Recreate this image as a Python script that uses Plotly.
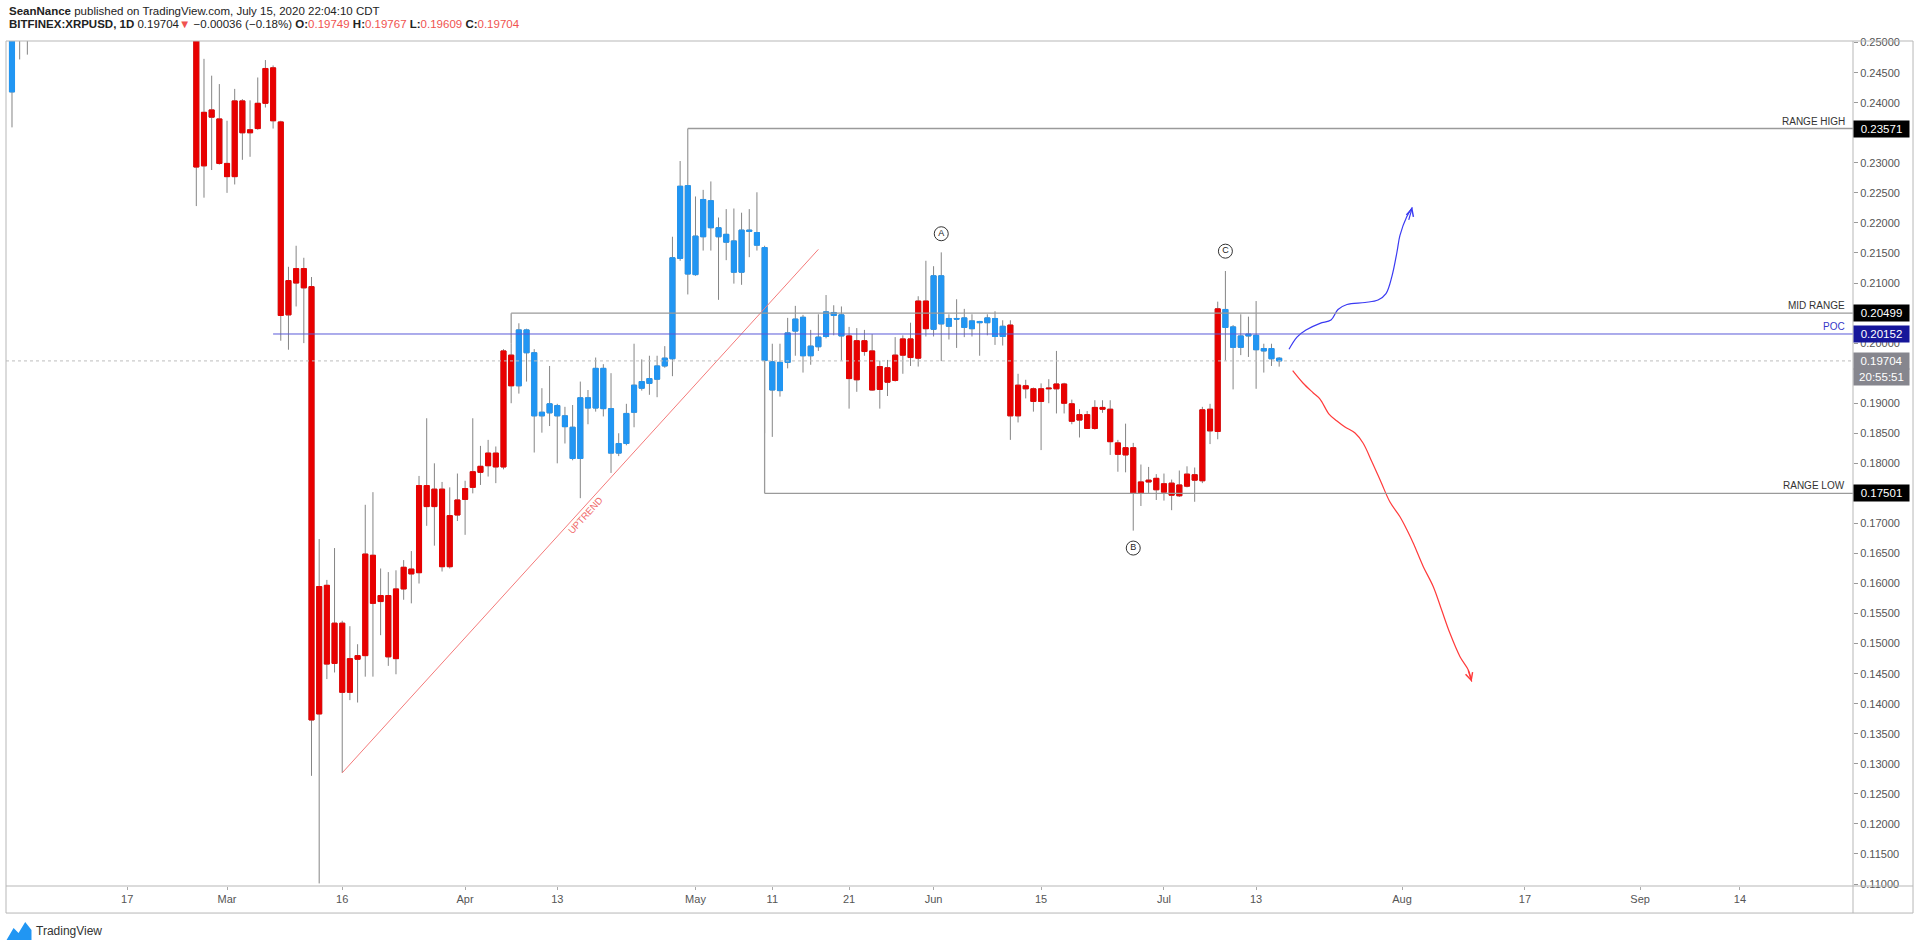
import pandas as pd
import plotly.graph_objects as go

# BITFINEX:XRPUSD daily candles (Feb 5-25 run above the visible range)
dates = list(pd.date_range("2020-02-02", "2020-02-04")) + list(pd.date_range("2020-02-26", "2020-07-16"))

opens = [
    # Feb
    0.2418, 0.2540, 0.2530, 0.2560, 0.2295, 0.2388, 0.2373,
    # Mar
    0.2299, 0.2277, 0.2403, 0.2350, 0.2357, 0.2399, 0.2458, 0.2368, 0.2047, 0.2100,
    0.2124, 0.2094, 0.1383, 0.1597, 0.1467, 0.1534, 0.1419, 0.1474, 0.1480, 0.1647,
    0.1570, 0.1580, 0.1475, 0.1591, 0.1624, 0.1618, 0.1763, 0.1728, 0.1757, 0.1628, 0.1714,
    # Apr
    0.1740, 0.1760, 0.1785, 0.1796, 0.1817, 0.1794, 0.1980, 0.1929, 0.2022, 0.1984,
    0.1879, 0.1884, 0.1896, 0.1879, 0.1860, 0.1808, 0.1909, 0.1892, 0.1958, 0.1891,
    0.1817, 0.1833, 0.1885, 0.1925, 0.1933, 0.1940, 0.1962, 0.1974, 0.2141, 0.2262,
    # May
    0.2114, 0.2177, 0.2237, 0.2192, 0.2181, 0.2170, 0.2118, 0.2188, 0.2184, 0.2159,
    0.1969, 0.1921, 0.1968, 0.2020, 0.2043, 0.1979, 0.1994, 0.2011, 0.2051, 0.2047,
    0.2012, 0.1939, 0.2004, 0.1987, 0.1923, 0.1959, 0.1938, 0.1980, 0.2007, 0.1975, 0.2070,
    # Jun
    0.2023, 0.2112, 0.2028, 0.2041, 0.2042, 0.2024, 0.2036, 0.2034, 0.2041, 0.2011,
    0.2030, 0.1879, 0.1929, 0.1924, 0.1903, 0.1924, 0.1924, 0.1932, 0.1899, 0.1872,
    0.1881, 0.1858, 0.1893, 0.1890, 0.1834, 0.1814, 0.1826, 0.1750, 0.1769, 0.1775,
    # Jul
    0.1752, 0.1767, 0.1746, 0.1762, 0.1781, 0.1771, 0.1890, 0.1853, 0.2056, 0.2027,
    0.1993, 0.2012, 0.2013, 0.1987, 0.1991, 0.19749,
]
highs = [
    0.2560, 0.2585, 0.2570, 0.2580, 0.2473, 0.2445, 0.2431,
    0.2370, 0.2423, 0.2406, 0.2404, 0.2442, 0.2471, 0.2462, 0.2370, 0.2127, 0.2162,
    0.2142, 0.2110, 0.1674, 0.1606, 0.1659, 0.1538, 0.1529, 0.1499, 0.1731, 0.1752,
    0.1625, 0.1619, 0.1622, 0.1639, 0.1654, 0.1779, 0.1875, 0.1800, 0.1769, 0.1760, 0.1783,
    0.1771, 0.1875, 0.1829, 0.1839, 0.1828, 0.1990, 0.2000, 0.2033, 0.2024, 0.1990,
    0.1925, 0.1962, 0.1899, 0.1894, 0.1897, 0.1936, 0.1922, 0.1976, 0.1965, 0.1950,
    0.1850, 0.1899, 0.1999, 0.1973, 0.1979, 0.1979, 0.1995, 0.2177, 0.2303, 0.23571,
    0.2244, 0.2255, 0.2269, 0.2209, 0.2223, 0.2224, 0.2217, 0.2223, 0.2251, 0.2162,
    0.1999, 0.1999, 0.2042, 0.2062, 0.2047, 0.2022, 0.2048, 0.2080, 0.2063, 0.2061,
    0.2027, 0.2025, 0.2022, 0.2015, 0.1971, 0.1972, 0.2010, 0.2013, 0.2034, 0.2078, 0.2137,
    0.2128, 0.2151, 0.2048, 0.2073, 0.2057, 0.2048, 0.2037, 0.2048, 0.2053, 0.2038,
    0.2038, 0.1949, 0.1939, 0.1926, 0.1933, 0.1940, 0.1987, 0.1934, 0.1906, 0.1890,
    0.1887, 0.1905, 0.1905, 0.1905, 0.1839, 0.1866, 0.1834, 0.1798, 0.1794, 0.1782,
    0.1783, 0.1773, 0.1788, 0.1795, 0.1793, 0.1894, 0.1899, 0.2069, 0.2120, 0.2030,
    0.2048, 0.2044, 0.2070, 0.1999, 0.1999, 0.19767,
]
lows = [
    0.2359, 0.2472, 0.2480, 0.2228, 0.2242, 0.2288, 0.2297,
    0.2250, 0.2264, 0.2305, 0.2310, 0.2355, 0.2392, 0.2357, 0.2004, 0.1989, 0.2061,
    0.2000, 0.1280, 0.1101, 0.1441, 0.1452, 0.1285, 0.1406, 0.1402, 0.1445, 0.1445,
    0.1514, 0.1463, 0.1449, 0.1573, 0.1567, 0.1600, 0.1696, 0.1663, 0.1620, 0.1625, 0.1704,
    0.1681, 0.1750, 0.1764, 0.1778, 0.1767, 0.1790, 0.1900, 0.1916, 0.1936, 0.1818,
    0.1851, 0.1862, 0.1800, 0.1833, 0.1805, 0.1742, 0.1865, 0.1886, 0.1878, 0.1784,
    0.1812, 0.1830, 0.1860, 0.1921, 0.1914, 0.1910, 0.1959, 0.1945, 0.2137, 0.2081,
    0.2112, 0.2154, 0.2154, 0.2072, 0.2138, 0.2099, 0.2097, 0.2143, 0.2154, 0.1850,
    0.1844, 0.1911, 0.1958, 0.1979, 0.1951, 0.1964, 0.1987, 0.2008, 0.2013, 0.1971,
    0.1891, 0.1919, 0.1979, 0.1921, 0.1891, 0.1912, 0.1936, 0.1949, 0.1962, 0.1961, 0.2011,
    0.2011, 0.1970, 0.2006, 0.1992, 0.2010, 0.2011, 0.1979, 0.2013, 0.1997, 0.1996,
    0.1839, 0.1868, 0.1908, 0.1886, 0.1822, 0.1900, 0.1883, 0.1883, 0.1865, 0.1843,
    0.1857, 0.1856, 0.1884, 0.1814, 0.1786, 0.1785, 0.1688, 0.1729, 0.1750, 0.1739,
    0.1738, 0.1722, 0.1744, 0.1760, 0.1736, 0.1767, 0.1832, 0.1840, 0.1971, 0.1923,
    0.1980, 0.1977, 0.1924, 0.1951, 0.1962, 0.19609,
]
closes = [
    0.2540, 0.2530, 0.2545, 0.2293, 0.2384, 0.2376, 0.2299,
    0.2277, 0.2403, 0.2350, 0.2355, 0.2399, 0.2457, 0.2370, 0.2046, 0.2104, 0.2124,
    0.2092, 0.1373, 0.1595, 0.1466, 0.1534, 0.1419, 0.1475, 0.1480, 0.1649, 0.1567,
    0.1580, 0.1478, 0.1591, 0.1627, 0.1616, 0.1763, 0.1728, 0.1757, 0.1628, 0.1713, 0.1739,
    0.1758, 0.1786, 0.1795, 0.1817, 0.1794, 0.1987, 0.1929, 0.2022, 0.1984, 0.1879,
    0.1885, 0.1899, 0.1879, 0.1861, 0.1808, 0.1909, 0.1892, 0.1958, 0.1891, 0.1817,
    0.1833, 0.1883, 0.1930, 0.1936, 0.1941, 0.1962, 0.1975, 0.2142, 0.2261, 0.2115,
    0.2178, 0.2239, 0.2192, 0.2177, 0.2168, 0.2118, 0.2188, 0.2186, 0.2163, 0.1971,
    0.1922, 0.1968, 0.2017, 0.2040, 0.1979, 0.1995, 0.2010, 0.2052, 0.2046, 0.2012,
    0.1941, 0.2004, 0.1986, 0.1922, 0.1961, 0.1935, 0.1980, 0.2007, 0.1976, 0.2070, 0.2024,
    0.2112, 0.2032, 0.2041, 0.2040, 0.2026, 0.2037, 0.2034, 0.2042, 0.2011, 0.2028,
    0.1879, 0.1930, 0.1924, 0.1903, 0.1924, 0.1925, 0.1932, 0.1900, 0.1870, 0.1881,
    0.1858, 0.1893, 0.1890, 0.1836, 0.1815, 0.1826, 0.1750, 0.1769, 0.1772, 0.1756,
    0.1766, 0.1747, 0.1764, 0.1782, 0.1772, 0.1889, 0.1854, 0.2057, 0.2026, 0.1993,
    0.2012, 0.2015, 0.1989, 0.1991, 0.19740, 0.19704,
]

# bar colouring of the trend script: state from that day on (+1 blue, -1 red)
trend_changes = [("2020-02-02", 1), ("2020-02-26", -1), ("2020-04-08", 1), ("2020-05-21", -1),
                 ("2020-06-01", 1), ("2020-06-11", -1), ("2020-07-09", 1)]

# drawn levels (price, first day)
range_high, range_high_from = 0.23571, "2020-04-30"
mid_range, mid_range_from = 0.20499, "2020-04-07"
poc, poc_from = 0.20152, "2020-03-07"
range_low, range_low_from = 0.17501, "2020-05-10"
last_price = 0.19704
countdown = "20:55:51"

uptrend_x = ["2020-03-16", "2020-05-17"]
uptrend_y = [0.1285, 0.2156]

# freehand scenarios
bull_x = ["2020-07-17 06:43", "2020-07-18 07:41", "2020-07-19 11:46", "2020-07-21 07:41",
          "2020-07-22 18:00", "2020-07-23 15:50", "2020-07-24 19:55", "2020-07-27 04:19",
          "2020-07-28 20:53", "2020-07-29 21:50", "2020-07-30 16:34", "2020-07-31 08:10",
          "2020-07-31 17:31", "2020-08-01 14:38", "2020-08-02 08:10"]
bull_y = [0.19897, 0.20101, 0.20218, 0.20329, 0.20384, 0.20559, 0.20642, 0.20676,
          0.20717, 0.20825, 0.21116, 0.21516, 0.21792, 0.22103, 0.22260]
bear_x = ["2020-07-17 18:14", "2020-07-19 02:24", "2020-07-20 09:50", "2020-07-21 07:41",
          "2020-07-22 11:46", "2020-07-23 12:43", "2020-07-24 13:41", "2020-07-25 21:07",
          "2020-07-26 22:05", "2020-07-28 02:10", "2020-07-29 06:14", "2020-07-30 10:19",
          "2020-07-31 17:31", "2020-08-01 15:36", "2020-08-02 11:17", "2020-08-03 18:29",
          "2020-08-05 01:41", "2020-08-06 03:50", "2020-08-07 05:46", "2020-08-08 13:12",
          "2020-08-09 15:07", "2020-08-10 01:41"]
bear_y = [0.19541, 0.19336, 0.19175, 0.19070, 0.18820, 0.18704, 0.18604, 0.18504,
          0.18338, 0.18022, 0.17689, 0.17356, 0.17111, 0.16890, 0.16669, 0.16280,
          0.15947, 0.15559, 0.15171, 0.14782, 0.14561, 0.14366]

point_x = ["2020-06-02", "2020-06-27", "2020-07-09"]
point_y = [0.2182, 0.1659, 0.2153]
point_text = ["A", "B", "C"]

tick_dates = ["2020-02-17", "2020-03-01", "2020-03-16", "2020-04-01", "2020-04-13", "2020-05-01",
              "2020-05-11", "2020-05-21", "2020-06-01", "2020-06-15", "2020-07-01", "2020-07-13",
              "2020-08-01", "2020-08-17", "2020-09-01", "2020-09-14"]
tick_text = ["17", "Mar", "16", "Apr", "13", "May", "11", "21", "Jun", "15", "Jul", "13",
             "Aug", "17", "Sep", "14"]

assert len(dates) == len(opens) == len(highs) == len(lows) == len(closes)

FONT = "Liberation Sans"
RED = "#e80000"
BLUE = "#2196f3"
WICK = "#858585"
LEVEL = "#9a9a9a"
X_VIEW = ["2020-02-01 05:17", "2020-09-28 17:17"]

df = pd.DataFrame({"date": dates, "open": opens, "high": highs, "low": lows, "close": closes})
state = pd.Series([s for _, s in trend_changes], index=pd.to_datetime([d for d, _ in trend_changes]))
df["trend"] = state.reindex(df["date"], method="ffill").values
df["top"] = df[["open", "close"]].max(axis=1)
df["bottom"] = df[["open", "close"]].min(axis=1)

fig = go.Figure()

# wicks first, in grey
fig.add_trace(go.Candlestick(
    x=df["date"], open=df["open"], high=df["high"], low=df["low"], close=df["close"],
    increasing=dict(line=dict(color=WICK, width=1), fillcolor=WICK),
    decreasing=dict(line=dict(color=WICK, width=1), fillcolor=WICK),
    whiskerwidth=0, hoverinfo="skip", showlegend=False))

# coloured bodies on top
for trend, color in [(-1, RED), (1, BLUE)]:
    sub = df[df["trend"] == trend]
    fig.add_trace(go.Candlestick(
        x=sub["date"], open=sub["open"], high=sub["top"], low=sub["bottom"], close=sub["close"],
        increasing=dict(line=dict(color=color, width=1), fillcolor=color),
        decreasing=dict(line=dict(color=color, width=1), fillcolor=color),
        whiskerwidth=0, hoverinfo="skip", showlegend=False))

fig.add_trace(go.Scatter(x=uptrend_x, y=uptrend_y, mode="lines",
                         line=dict(color="#f47a7a", width=1), hoverinfo="skip", showlegend=False))
fig.add_trace(go.Scatter(x=bull_x, y=bull_y, mode="lines", line=dict(color="#3a3af2", width=1.2, shape="spline"),
                         hoverinfo="skip", showlegend=False))
fig.add_trace(go.Scatter(x=bear_x, y=bear_y, mode="lines", line=dict(color="#ff3a3a", width=1.2, shape="spline"),
                         hoverinfo="skip", showlegend=False))
fig.add_trace(go.Scatter(x=point_x, y=point_y, mode="markers+text", text=point_text,
                         textposition="middle center", textfont=dict(family=FONT, size=9, color="#222"),
                         marker=dict(symbol="circle-open", size=14, color="#333", line=dict(width=1)),
                         hoverinfo="skip", showlegend=False))

shapes = [
    dict(type="line", xref="x", yref="y", x0=X_VIEW[0], x1=X_VIEW[1], y0=last_price, y1=last_price,
         line=dict(color="#bdbdbd", width=1, dash="dot")),
    dict(type="line", xref="x", yref="y", x0=range_high_from, x1=X_VIEW[1], y0=range_high, y1=range_high,
         line=dict(color=LEVEL, width=1.3)),
    dict(type="line", xref="x", yref="y", x0=mid_range_from, x1=X_VIEW[1], y0=mid_range, y1=mid_range,
         line=dict(color=LEVEL, width=1.3)),
    dict(type="line", xref="x", yref="y", x0=mid_range_from, x1=mid_range_from, y0=0.2000, y1=mid_range,
         line=dict(color=LEVEL, width=1.3)),
    dict(type="line", xref="x", yref="y", x0=poc_from, x1=X_VIEW[1], y0=poc, y1=poc,
         line=dict(color="#5a5ad8", width=1)),
    dict(type="line", xref="x", yref="y", x0=range_low_from, x1=X_VIEW[1], y0=range_low, y1=range_low,
         line=dict(color=LEVEL, width=1.3)),
    dict(type="line", xref="x", yref="y", x0=range_low_from, x1=range_low_from, y0=0.1971, y1=range_low,
         line=dict(color=LEVEL, width=1.3)),
    # chart frame, price-scale separator and time-scale line
    dict(type="rect", xref="paper", yref="paper", x0=0, x1=1.0325, y0=-0.032, y1=1,
         line=dict(color="#b7b7b7", width=1)),
    dict(type="line", xref="paper", yref="paper", x0=1, x1=1, y0=-0.032, y1=1,
         line=dict(color="#b7b7b7", width=1)),
    dict(type="line", xref="paper", yref="paper", x0=0, x1=1.0325, y0=0, y1=0,
         line=dict(color="#b7b7b7", width=1)),
    # TradingView logo mark
    dict(type="path", xref="paper", yref="paper", fillcolor="#2196f3", line=dict(width=0),
         path="M 0.0003,-0.0639 L 0.0041,-0.0497 L 0.0068,-0.0556 L 0.0104,-0.0426 "
              "L 0.0138,-0.0521 L 0.0138,-0.0639 Z"),
]


def price_tag(y, text, bg, yshift=0):
    return dict(xref="paper", yref="y", x=1, y=y, xanchor="left", yanchor="middle", text=text,
                showarrow=False, bgcolor=bg, width=53, height=14, borderpad=1, yshift=yshift,
                font=dict(family=FONT, size=11.5, color="white"))


def level_label(y, text, color="#333"):
    return dict(xref="paper", yref="y", x=0.9968, y=y, xanchor="right", yanchor="bottom", text=text,
                showarrow=False, font=dict(family=FONT, size=10, color=color))


header_red = "#f05350"
line2 = ("<b>BITFINEX:XRPUSD, 1D</b> 0.19704<span style='color:%s'>▼</span> −0.00036 (−0.18%%) "
         "<b>O:</b><span style='color:%s'>0.19749</span> <b>H:</b><span style='color:%s'>0.19767</span> "
         "<b>L:</b><span style='color:%s'>0.19609</span> <b>C:</b><span style='color:%s'>0.19704</span>"
         % ((header_red,) * 5))

annotations = [
    dict(xref="paper", yref="paper", x=0.0005, y=1.0355, xanchor="left", yanchor="middle", showarrow=False,
         text="<b>SeanNance</b> published on TradingView.com, July 15, 2020 22:04:10 CDT",
         font=dict(family=FONT, size=11.5, color="#222")),
    dict(xref="paper", yref="paper", x=0.0005, y=1.0198, xanchor="left", yanchor="middle", showarrow=False,
         text=line2, font=dict(family=FONT, size=11.5, color="#222")),
    dict(xref="paper", yref="paper", x=0.0152, y=-0.0533, xanchor="left", yanchor="middle", showarrow=False,
         text="TradingView", font=dict(family=FONT, size=12, color="#333")),
    level_label(range_high, "RANGE HIGH"),
    level_label(mid_range, "MID RANGE"),
    level_label(poc, "POC", "#3636c8"),
    level_label(range_low, "RANGE LOW"),
    price_tag(range_high, "0.23571", "#000000"),
    price_tag(mid_range, "0.20499", "#000000"),
    price_tag(poc, "0.20152", "#16169a"),
    price_tag(last_price, "0.19704", "#86868e"),
    price_tag(last_price, countdown, "#86868e", yshift=-16),
    price_tag(range_low, "0.17501", "#000000"),
    dict(x="2020-04-16 14:00", y=0.1714, xref="x", yref="y", text="UPTREND", showarrow=False,
         textangle=-47.7, font=dict(family=FONT, size=9.5, color="#f06a6a")),
    dict(x=bull_x[-1], y=bull_y[-1], xref="x", yref="y", text="", showarrow=True, ax=-4, ay=14,
         arrowhead=5, arrowsize=1.2, arrowwidth=1.2, arrowcolor="#3a3af2", standoff=0),
    dict(x=bear_x[-1], y=bear_y[-1], xref="x", yref="y", text="", showarrow=True, ax=-4, ay=-13,
         arrowhead=5, arrowsize=1.2, arrowwidth=1.2, arrowcolor="#ff3a3a", standoff=0),
]

fig.update_layout(
    width=1920, height=948,
    margin=dict(l=6, r=67, t=41, b=62),
    paper_bgcolor="white", plot_bgcolor="white",
    boxmode="overlay", boxgap=0.34, boxgroupgap=0,
    showlegend=False,
    shapes=shapes, annotations=annotations,
    font=dict(family=FONT),
)
fig.update_xaxes(
    type="date", range=X_VIEW, rangeslider=dict(visible=False),
    tickmode="array", tickvals=tick_dates, ticktext=tick_text,
    ticks="outside", ticklen=3, tickcolor="#aaa",
    tickfont=dict(family=FONT, size=11, color="#555"),
    showgrid=False, zeroline=False, showline=False,
)
fig.update_yaxes(
    side="right", range=[0.10967, 0.25027], tick0=0.11, dtick=0.005, tickformat=".5f",
    ticks="outside", ticklen=4, tickcolor="#999",
    tickfont=dict(family=FONT, size=11, color="#555"),
    showgrid=False, zeroline=False, showline=False,
)

# the page body keeps its default 8px margin otherwise
fig.write_html("out.html", config={"displayModeBar": False},
               post_script="document.body.style.margin='0';")
